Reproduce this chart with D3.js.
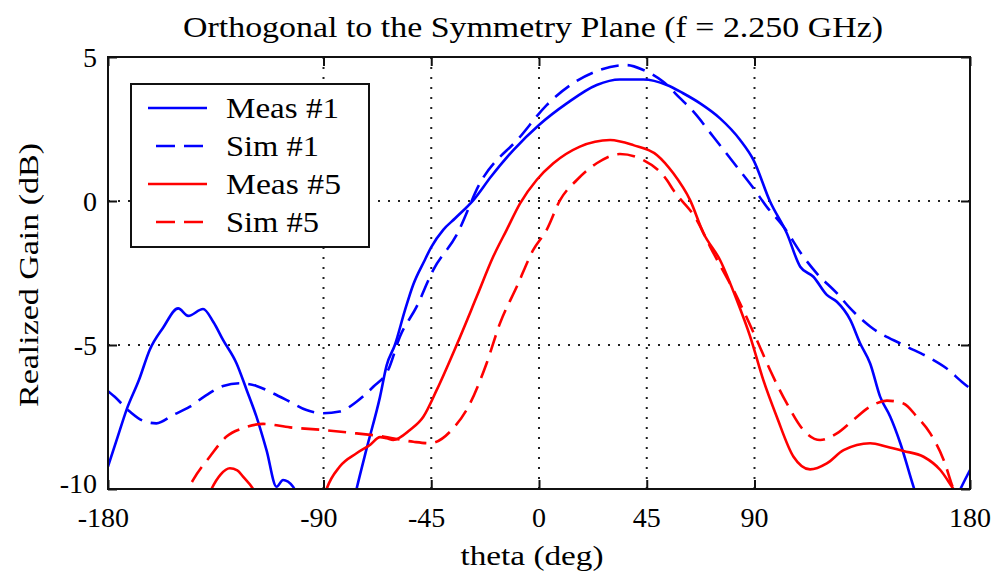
<!DOCTYPE html>
<html><head><meta charset="utf-8">
<script src="https://cdn.jsdelivr.net/npm/d3@7"></script>
<style>
body{margin:0;background:#fff}
svg{display:block}
text{font-family:"Liberation Serif","Times New Roman",serif;fill:#000}
</style>
</head><body>
<svg id="c" width="1003" height="579"></svg>
<script>
// ---------------- data ----------------
const titleText = "Orthogonal to the Symmetry Plane (f = 2.250 GHz)";
const xLabel = "theta (deg)";
const yLabel = "Realized Gain (dB)";
const xTicks = [-180, -90, -45, 0, 45, 90, 180];
const yTicks = [5, 0, -5, -10];
const xGrid = [-90, -45, 0, 45, 90];
const yGrid = [0, -5];
const seriesNames = ["Meas #1", "Sim #1", "Meas #5", "Sim #5"];
const seriesColors = ["#0000ff", "#0000ff", "#ff0000", "#ff0000"];
const seriesDashed = [false, true, false, true];

const thetaMeas1 = [-180, -176, -172.3, -167, -162.6, -157, -150.7, -146.5, -140.3, -136, -131.9, -126.3, -122.1, -118, -113.8, -109.6, -106.9, -102.7, -100, -97, -93, -85, -80, -76.2, -72, -66.4, -63.6, -60.2, -56, -52.5, -48, -45, -40, -35, -27.4, -20, -10.7, 0, 11.6, 24.1, 33.8, 43.6, 53.4, 60, 67.3, 75.6, 84, 89.6, 96.5, 103.5, 109.1, 114.6, 120.2, 124.4, 130, 134.1, 138.3, 142.5, 146.7, 150.9, 156.4, 160, 168, 176, 180];
const gainMeas1 = [-9.22, -8.2, -7.26, -6.2, -5.17, -4.4, -3.73, -3.99, -3.75, -4.2, -4.83, -5.64, -6.56, -7.49, -8.65, -9.92, -9.69, -9.92, -10.3, -10.05, -10.8, -12, -11.4, -10, -8.6, -6.8, -5.7, -5.0, -3.8, -2.9, -2.1, -1.6, -1.0, -0.6, 0.03, 0.85, 1.77, 2.64, 3.39, 4.03, 4.22, 4.22, 4.03, 3.75, 3.39, 2.87, 2.12, 1.42, -0.02, -1.12, -2.28, -2.63, -3.26, -3.5, -4.13, -4.94, -5.64, -6.8, -7.49, -8.41, -9.92, -10.8, -11.5, -10, -9.34];

const thetaSim1 = [-180, -177.2, -170.9, -165.4, -159.8, -152.8, -145.8, -138.9, -131.9, -124.9, -118, -111, -104, -97.1, -90.1, -83.2, -76.2, -69.2, -63, -58.1, -51.1, -44.2, -34.4, -24.7, -7.9, 3.2, 14.3, 25.5, 36.6, 43.6, 51.9, 58.9, 64.5, 72.8, 82.6, 89.6, 95.1, 102.1, 110.4, 116, 124.4, 130, 138.3, 152.2, 163.4, 170, 177.3, 180];
const gainSim1 = [-6.6, -6.8, -7.31, -7.63, -7.72, -7.43, -7.14, -6.74, -6.42, -6.33, -6.42, -6.68, -6.97, -7.26, -7.37, -7.31, -6.97, -6.45, -5.87, -4.71, -3.67, -2.4, -1.18, 0.61, 2.23, 3.33, 4.09, 4.55, 4.72, 4.55, 4.14, 3.57, 3.1, 2.23, 1.19, 0.44, -0.2, -0.89, -1.93, -2.51, -3.2, -3.73, -4.36, -5.0, -5.46, -5.8, -6.33, -6.5];

const thetaMeas5 = [-140, -136.8, -133, -129.1, -126, -123.6, -119.4, -116, -100, -92, -88.7, -83.2, -76.2, -70.6, -66.4, -63.6, -60.9, -53.9, -48.3, -42.7, -34.4, -26, -19.1, -13.5, -7.9, -1, 6, 17.1, 29.7, 39.4, 49.2, 56.1, 63.1, 68.7, 75.6, 82.6, 88.2, 93.7, 99.3, 106.3, 113.2, 120.2, 127.2, 138.3, 145.3, 152.2, 160.6, 167.6, 173.1, 180];
const gainMeas5 = [-10.6, -10, -9.5, -9.28, -9.35, -9.57, -10, -10.6, -12, -11, -10, -9.22, -8.76, -8.47, -8.2, -8.24, -8.3, -7.95, -7.49, -6.56, -5.0, -3.32, -1.93, -1.0, -0.08, 0.73, 1.31, 1.89, 2.12, 1.94, 1.6, 0.96, 0.03, -1.12, -2.05, -3.44, -4.71, -6.22, -7.49, -8.88, -9.32, -9.11, -8.65, -8.41, -8.53, -8.68, -8.88, -9.34, -10, -10.8];

const thetaSim5 = [-150, -144.5, -137.5, -130.5, -123.6, -115.2, -104, -90.1, -76.2, -66.4, -52.5, -45.5, -35.8, -28.8, -21.9, -16.3, -9.3, -2.4, 3.2, 8.8, 15.8, 24.1, 33.8, 43.6, 53.4, 56.1, 65.9, 71.5, 82.6, 91, 96.5, 103.5, 110.4, 117.4, 124.4, 131.3, 138.3, 145.3, 152.2, 157.8, 163.4, 169, 173.1, 180];
const gainSim5 = [-10.6, -9.69, -8.88, -8.18, -7.89, -7.74, -7.86, -7.95, -8.07, -8.16, -8.36, -8.41, -7.89, -7.03, -5.64, -4.25, -2.98, -1.7, -1.0, 0.03, 0.73, 1.31, 1.63, 1.42, 0.73, 0.38, -0.66, -1.59, -3.32, -4.83, -5.87, -7.03, -7.95, -8.3, -8.07, -7.6, -7.14, -6.93, -7.03, -7.49, -8.07, -8.99, -10, -11];

const seriesTheta = [thetaMeas1, thetaSim1, thetaMeas5, thetaSim5];
const seriesGain = [gainMeas1, gainSim1, gainMeas5, gainSim5];

// ---------------- layout ----------------
const W = 1003, H = 579;
const L = 108, R = 970, T = 57, B = 489;
const FS = 28;

const x = d3.scaleLinear().domain([-180, 180]).range([L, R]);
const y = d3.scaleLinear().domain([-10, 5]).range([B, T]);

const svg = d3.select("#c");
svg.append("rect").attr("width", W).attr("height", H).attr("fill", "#fff");

// grid
svg.append("g").selectAll("line").data(xGrid).join("line")
  .attr("x1", d => x(d)).attr("x2", d => x(d)).attr("y1", T).attr("y2", B)
  .attr("stroke", "#222").attr("stroke-width", 2).attr("stroke-dasharray", "2,8");
svg.append("g").selectAll("line").data(yGrid).join("line")
  .attr("y1", d => y(d)).attr("y2", d => y(d)).attr("x1", L).attr("x2", R)
  .attr("stroke", "#222").attr("stroke-width", 2).attr("stroke-dasharray", "2,8");

// curves
svg.append("clipPath").attr("id", "clip").append("rect")
  .attr("x", L).attr("y", T).attr("width", R - L).attr("height", B - T);
const line = d3.line().x(d => x(d[0])).y(d => y(d[1])).curve(d3.curveMonotoneX);
const curves = svg.append("g").attr("clip-path", "url(#clip)");
seriesNames.forEach((n, i) => {
  const pts = seriesTheta[i].map((t, j) => [t, seriesGain[i][j]]);
  curves.append("path").datum(pts).attr("d", line)
    .attr("fill", "none").attr("stroke", seriesColors[i]).attr("stroke-width", 2.6)
    .attr("stroke-linejoin", "round")
    .attr("stroke-dasharray", seriesDashed[i] ? "18,9" : null);
});

// axes (ticks inside)
function styleAxis(g) {
  g.select(".domain").remove();
  g.selectAll(".tick line").attr("stroke", "#111").attr("stroke-width", 2);
}
svg.append("g").attr("transform", `translate(0,${B})`)
  .call(d3.axisBottom(x).tickValues(xTicks).tickSize(-9).tickFormat(""))
  .call(styleAxis);
svg.append("g").attr("transform", `translate(0,${T})`)
  .call(d3.axisTop(x).tickValues(xTicks).tickSize(-9).tickFormat(""))
  .call(styleAxis);
const yl = svg.append("g").attr("transform", `translate(${L},0)`)
  .call(d3.axisLeft(y).tickValues(yTicks).tickSize(-9).tickPadding(11).tickFormat(d => String(d)))
  .call(styleAxis);
yl.attr("font-size", null).attr("font-family", null);
yl.selectAll(".tick text").attr("font-size", FS).attr("fill", "#000")
  .attr("dy", d => d === -10 ? "0.12em" : "0.34em");
svg.append("g").attr("transform", `translate(${R},0)`)
  .call(d3.axisRight(y).tickValues(yTicks).tickSize(-9).tickFormat(""))
  .call(styleAxis);

// box
svg.append("rect").attr("x", L).attr("y", T).attr("width", R - L).attr("height", B - T)
  .attr("fill", "none").attr("stroke", "#111").attr("stroke-width", 2);

// x tick labels: digits centred on tick, minus sign hanging left
const meas = svg.append("text").attr("font-size", FS).attr("opacity", 0);
function tw(s) { meas.text(s); return meas.node().getComputedTextLength(); }
svg.append("g").selectAll("text").data(xTicks).join("text")
  .attr("font-size", FS)
  .attr("x", d => x(d) - tw(String(Math.abs(d))) / 2 - (d < 0 ? tw("-") : 0))
  .attr("y", 527)
  .text(d => String(d));
meas.remove();

// title and axis labels
svg.append("text").attr("x", 533).attr("y", 37).attr("text-anchor", "middle")
  .attr("font-size", 30).attr("textLength", 700).attr("lengthAdjust", "spacingAndGlyphs")
  .text(titleText);
svg.append("text").attr("x", 532).attr("y", 565).attr("text-anchor", "middle")
  .attr("font-size", FS).attr("textLength", 143).attr("lengthAdjust", "spacingAndGlyphs")
  .text(xLabel);
svg.append("text").attr("transform", "translate(38,275) rotate(-90)").attr("text-anchor", "middle")
  .attr("font-size", FS).attr("textLength", 264).attr("lengthAdjust", "spacingAndGlyphs")
  .text(yLabel);

// legend
const lg = svg.append("g");
lg.append("rect").attr("x", 131).attr("y", 84).attr("width", 238).attr("height", 163)
  .attr("fill", "#fff").attr("stroke", "#111").attr("stroke-width", 2);
const rowY = d3.scalePoint().domain(seriesNames).range([108, 222]);
const legendW = [113, 93, 115, 93];
seriesNames.forEach((n, i) => {
  const yy = rowY(n);
  lg.append("line").attr("x1", seriesDashed[i] ? 156 : 148).attr("x2", seriesDashed[i] ? 204 : 207)
    .attr("y1", yy).attr("y2", yy)
    .attr("stroke", seriesColors[i]).attr("stroke-width", 2.6)
    .attr("stroke-dasharray", seriesDashed[i] ? "19,9" : null);
  lg.append("text").attr("x", 226).attr("y", yy + 10).attr("font-size", 30)
    .attr("textLength", legendW[i]).attr("lengthAdjust", "spacingAndGlyphs")
    .text(n);
});
</script>
</body></html>
